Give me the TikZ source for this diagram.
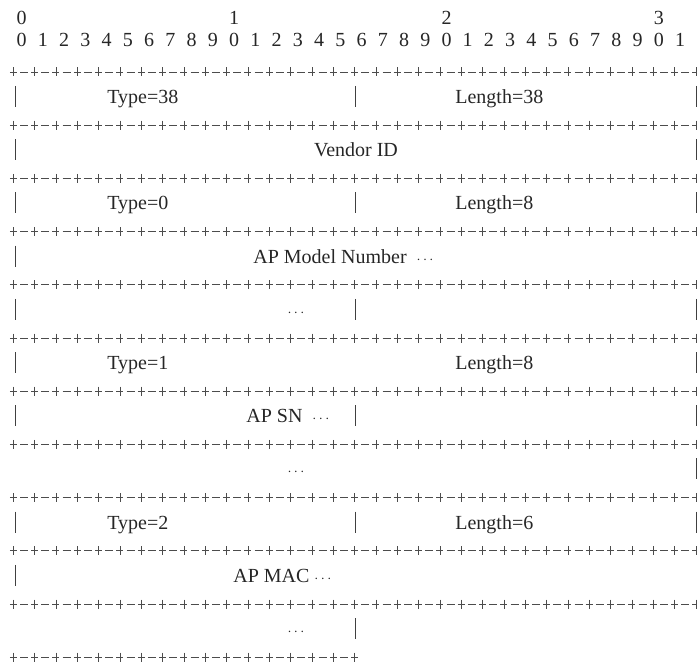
\documentclass[tikz,border=0pt]{standalone}
\usepackage{fontspec}
\setmainfont{Liberation Serif}

\newcommand{\more}{{\fontsize{15}{18}\selectfont$\cdots$}}

\begin{document}
\begin{tikzpicture}[x=1pt, y=-1pt, line width=0.7pt,
	txt/.style={inner sep=0pt, anchor=base, text=black!85, font=\fontsize{20}{24}\selectfont},
	lbl/.style={txt, anchor=base west},
	bar/.style={draw=black!75, line width=0.8pt},
	tick/.style={draw=black!70, line width=0.7pt}]
	\useasboundingbox (0,0) rectangle (697,666);

	% Bit ruler
	\foreach \d [count=\i from 0] in {0,1,2,3}
		\node [txt] (dec\d) at (21.7+212.4*\i, 25) {\d};
	\foreach \i in {0,...,31} {
		\pgfmathtruncatemacro\u{mod(\i,10)}
		\node [txt] (bit\i) at (21.7+21.24*\i, 46.5) {\u};
	}

	% Separator rows  +-+-+-...
	\foreach \r in {0,...,10} {
		\foreach \k in {0,...,32}
			\path [tick] (13.3+21.33*\k, 72+53.2*\r) +(-3.5,0) -- +(3.5,0) +(0,-4.5) -- +(0,4.5);
		\foreach \k in {0,...,31}
			\path [tick] (20+21.33*\k, 72+53.2*\r) -- +(8,0);
	}
	% last one stops half way
	\foreach \k in {0,...,16}
		\path [tick] (13.3+21.33*\k, 657.2) +(-3.5,0) -- +(3.5,0) +(0,-4.5) -- +(0,4.5);
	\foreach \k in {0,...,15}
		\path [tick] (20+21.33*\k, 657.2) -- +(8,0);

	% Field borders {row/x}
	\foreach \r/\x in {0/15, 0/355, 0/696,
	                   1/15, 1/696,
	                   2/15, 2/355, 2/696,
	                   3/15,
	                   4/15, 4/355, 4/696,
	                   5/15, 5/696,
	                   6/15, 6/355, 6/696,
	                   7/696,
	                   8/15, 8/355, 8/696,
	                   9/15,
	                   10/355}
		\path [bar] (\x, 86+53.2*\r) -- (\x, 107+53.2*\r);

	% Field names
	\node [lbl] (type38)    at (107, 103.5)  {Type=38};
	\node [lbl] (len38)     at (455, 103.5)  {Length=38};
	\node [txt] (vendor)    at (356, 156.7)  {Vendor ID};
	\node [lbl] (type0)     at (107, 209.9)  {Type=0};
	\node [lbl] (len8a)     at (455, 209.9)  {Length=8};
	\node [lbl] (model)     at (253, 263.1)  {AP Model Number \ \more};
	\node [txt] (modelcont) at (296, 316.3)  {\more};
	\node [lbl] (type1)     at (107, 369.5)  {Type=1};
	\node [lbl] (len8b)     at (455, 369.5)  {Length=8};
	\node [lbl] (sn)        at (246, 422.7)  {AP SN \ \more};
	\node [txt] (sncont)    at (296, 475.9)  {\more};
	\node [lbl] (type2)     at (107, 529.1)  {Type=2};
	\node [lbl] (len6)      at (455, 529.1)  {Length=6};
	\node [lbl] (mac)       at (233, 582.3)  {AP MAC \more};
	\node [txt] (maccont)   at (296, 635.5)  {\more};
\end{tikzpicture}
\end{document}
